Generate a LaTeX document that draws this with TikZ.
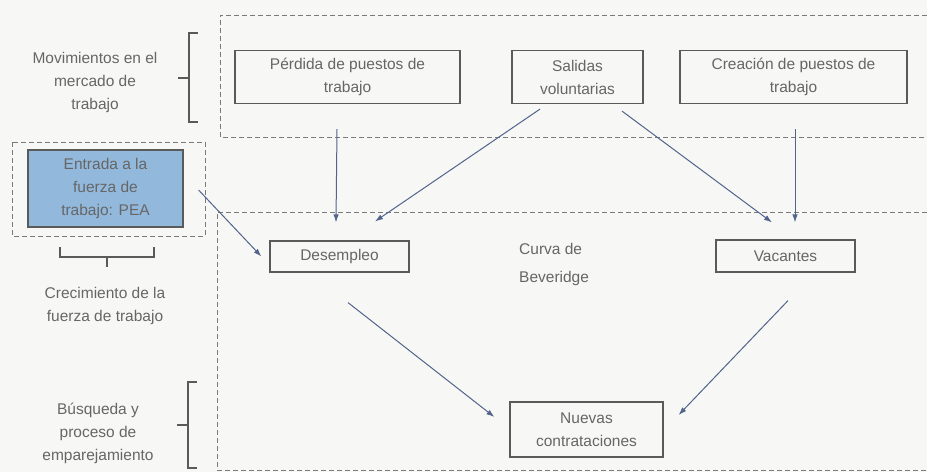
\documentclass[tikz,border=0pt]{standalone}
\usepackage{fontspec}
\setmainfont{Liberation Sans}
\usetikzlibrary{arrows.meta}
\definecolor{bgc}{HTML}{F7F8F5}
\definecolor{txt}{HTML}{666666}
\definecolor{boxc}{HTML}{5A5A5A}
\definecolor{dashc}{HTML}{7A7A7A}
\definecolor{arrc}{HTML}{52648C}
\definecolor{peafill}{HTML}{92B9DC}
\begin{document}
\begin{tikzpicture}[x=1pt,y=-1pt,
  every node/.style={font=\fontsize{15.5}{23}\selectfont, text=txt, align=center, inner sep=0pt},
  flowbox/.style={draw=boxc, line width=1.2pt, minimum width=#1},
  dbox/.style={draw=dashc, line width=1pt, dash pattern=on 5pt off 3pt},
  brk/.style={draw=boxc, line width=1.1pt},
  arr/.style={draw=arrc, line width=1pt, -{Latex[length=8pt,width=5.5pt]}}]
\fill[bgc] (0,0) rectangle (927,472);
\useasboundingbox (0,0) rectangle (927,472);
% dashed groups
\draw[dbox] (927,15) -- (220,15) -- (220,137) -- (927,137);
\draw[dbox] (927,212) -- (217,212) -- (217,470) -- (927,470);
\draw[dbox] (12,142) rectangle (205,236);
% boxes
\node[flowbox=225pt, minimum height=53pt] (perdida) at (347.5,77) {P\'erdida de puestos de\\trabajo};
\node[flowbox=131pt, minimum height=53pt] (salidas) at (577.5,77) {Salidas\\voluntarias};
\node[flowbox=227pt, minimum height=53pt] (creacion) at (793.5,77) {Creaci\'on de puestos de\\trabajo};
\node[flowbox=139pt, minimum height=31pt] (desempleo) at (339.5,256.5) {Desempleo};
\node[flowbox=139pt, minimum height=32pt] (vacantes) at (785.5,256) {Vacantes};
\node[flowbox=153pt, minimum height=55pt] (nuevas) at (586.5,429.5) {Nuevas\\contrataciones};
\node[draw=boxc, fill=peafill, line width=1.1pt, minimum width=155pt, minimum height=77pt] (pea) at (105.5,188.5) {Entrada a la\\fuerza de\\trabajo: PEA};
\node[align=left, anchor=west, font=\fontsize{15.5}{28}\selectfont] (curva) at (519,264) {Curva de\\Beveridge};
% side labels
\node (mov) at (95,82) {Movimientos en el\\mercado de\\trabajo};
\node (crec) at (105,306) {Crecimiento de la\\fuerza de trabajo};
\node (busq) at (98,433) {B\'usqueda y\\proceso de\\emparejamiento};
% brackets
\draw[brk] (198,33) -- (189,33) -- (189,122) -- (198,122);
\draw[brk] (178,78) -- (189,78);
\draw[brk] (197,382) -- (188,382) -- (188,468) -- (197,468);
\draw[brk] (177,425) -- (188,425);
\draw[brk] (60,247) -- (60,257) -- (154,257) -- (154,247);
\draw[brk] (107,257) -- (107,267);
% connectors
\draw[arr] ([xshift=-10.5pt,yshift=-25pt]perdida.south) -- ([xshift=-3.5pt,yshift=18pt]desempleo.north);
\draw[arr] ([xshift=-37.5pt,yshift=-5pt]salidas.south) -- ([xshift=35.5pt,yshift=19pt]desempleo.north);
\draw[arr] ([xshift=44.5pt,yshift=-7pt]salidas.south) -- ([xshift=-13.5pt,yshift=17pt]vacantes.north);
\draw[arr] ([xshift=1.5pt,yshift=-25pt]creacion.south) -- ([xshift=9.5pt,yshift=17pt]vacantes.north);
\draw[arr] ([xshift=15pt,yshift=-1.5pt]pea.east) -- ([xshift=-8pt]desempleo.west);
\draw[arr] ([xshift=8.5pt,yshift=-30pt]desempleo.south) -- ([xshift=-15pt,yshift=12.5pt]nuevas.west);
\draw[arr] ([xshift=2.5pt,yshift=-28pt]vacantes.south) -- ([xshift=15pt,yshift=14.5pt]nuevas.east);
\end{tikzpicture}
\end{document}
